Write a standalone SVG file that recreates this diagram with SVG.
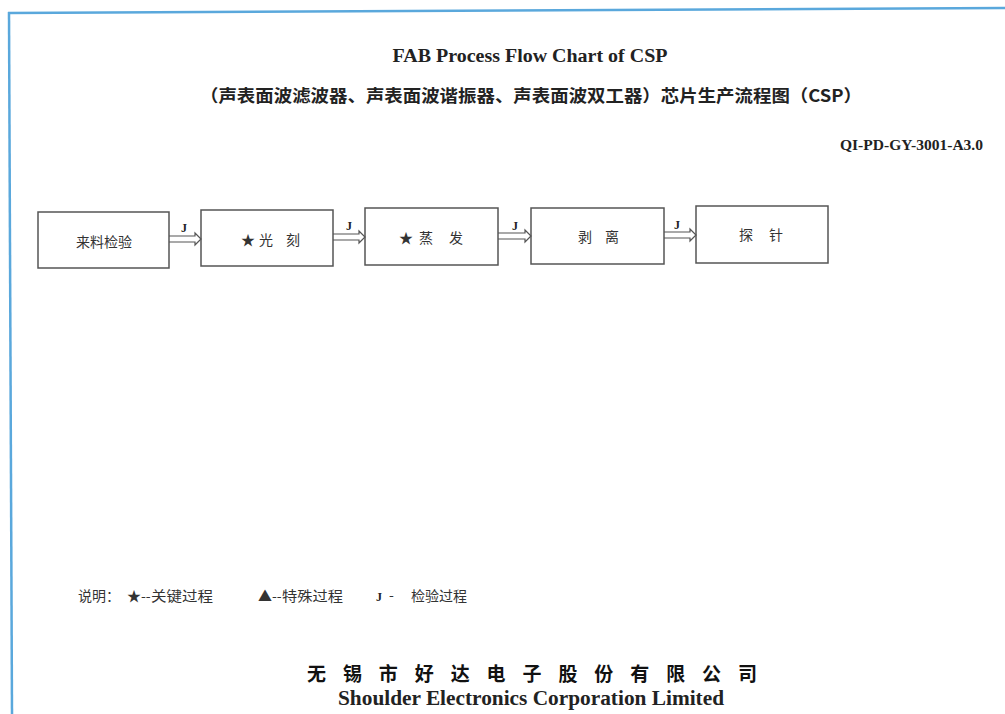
<svg xmlns="http://www.w3.org/2000/svg" width="1005" height="714" viewBox="0 0 1005 714">
<style>
.box{fill:#fff;stroke:#555;stroke-width:1.5}
.cn{font-family:"Noto Sans CJK SC",sans-serif;fill:#333;font-size:14px}
.serif{font-family:"Liberation Serif","Noto Serif CJK SC",serif;fill:#222;font-weight:bold}
.arr{fill:none;stroke:#555;stroke-width:1.2}
.j{font-family:"Liberation Serif",serif;font-size:12px;fill:#222;font-weight:bold}
</style>
<rect width="1005" height="714" fill="#fff"/>
<g id="frame">
<line x1="8" y1="13" x2="1005" y2="8" stroke="#5aa8dc" stroke-width="2.5"/>
<line x1="9" y1="12" x2="12" y2="714" stroke="#5aa8dc" stroke-width="2.5"/>
</g>
<g id="titles">
<text class="serif" x="530" y="62" font-size="18" text-anchor="middle" textLength="275" lengthAdjust="spacingAndGlyphs">FAB Process Flow Chart of CSP</text>
<text x="531" y="102" font-size="17" text-anchor="middle" font-family="Noto Sans CJK SC,sans-serif" font-weight="bold" fill="#222" textLength="662" lengthAdjust="spacingAndGlyphs">（声表面波滤波器、声表面波谐振器、声表面波双工器）芯片生产流程图（CSP）</text>
<text class="serif" x="983" y="150" font-size="14" text-anchor="end" textLength="143" lengthAdjust="spacingAndGlyphs">QI-PD-GY-3001-A3.0</text>
</g>
<g id="node1"><rect class="box" x="38" y="212" width="131" height="56"/><text class="cn" x="104" y="247" text-anchor="middle" textLength="56" lengthAdjust="spacingAndGlyphs">来料检验</text></g>
<g id="node2"><rect class="box" x="201" y="210" width="132" height="56"/><text class="cn" x="241" y="245" font-size="13">★</text><text class="cn" x="259" y="245">光</text><text class="cn" x="286" y="245">刻</text></g>
<g id="node3"><rect class="box" x="365" y="208" width="133" height="57"/><text class="cn" x="399" y="243" font-size="13">★</text><text class="cn" x="419" y="243">蒸</text><text class="cn" x="449" y="243">发</text></g>
<g id="node4"><rect class="box" x="531" y="208" width="133" height="56"/><text class="cn" x="578" y="242">剥</text><text class="cn" x="605" y="242">离</text></g>
<g id="node5"><rect class="box" x="696" y="206" width="132" height="57"/><text class="cn" x="739" y="240">探</text><text class="cn" x="769" y="240">针</text></g>
<g id="connectors">
<path class="arr" d="M169 236 H195 V233 L201 239 L195 245 V242 H169"/>
<path class="arr" d="M333 234 H359 V231 L365 237 L359 243 V240 H333"/>
<path class="arr" d="M498 233 H525 V230 L531 236 L525 242 V239 H498"/>
<path class="arr" d="M664 232 H690 V229 L696 235 L690 241 V238 H664"/>
<text class="j" x="181" y="232">J</text>
<text class="j" x="346" y="230">J</text>
<text class="j" x="512" y="230">J</text>
<text class="j" x="674" y="229">J</text>
</g>
<g id="legend">
<text class="cn" x="78" y="601" font-size="13">说明：</text>
<text class="cn" x="127" y="601" font-size="12">★--</text>
<text class="cn" x="151" y="601" font-size="13" textLength="62" lengthAdjust="spacingAndGlyphs">关键过程</text>
<text class="cn" x="258" y="601" font-size="12">▲--</text>
<text class="cn" x="282" y="601" font-size="13" textLength="61" lengthAdjust="spacingAndGlyphs">特殊过程</text>
<text class="j" x="376" y="601" font-size="13" font-weight="normal">J</text>
<text class="cn" x="389" y="600" font-size="12">-</text>
<text class="cn" x="411" y="601" font-size="13" fill="#888" textLength="56" lengthAdjust="spacingAndGlyphs">检验过程</text>
</g>
<g id="footer">
<text x="532" y="681" font-size="19" text-anchor="middle" font-family="Noto Sans CJK SC,sans-serif" font-weight="bold" fill="#111" textLength="450" lengthAdjust="spacing">无 锡 市 好 达 电 子 股 份 有 限 公 司</text>
<text class="serif" x="531" y="705" font-size="20" text-anchor="middle" textLength="386" lengthAdjust="spacingAndGlyphs">Shoulder Electronics Corporation Limited</text>
</g>
</svg>
